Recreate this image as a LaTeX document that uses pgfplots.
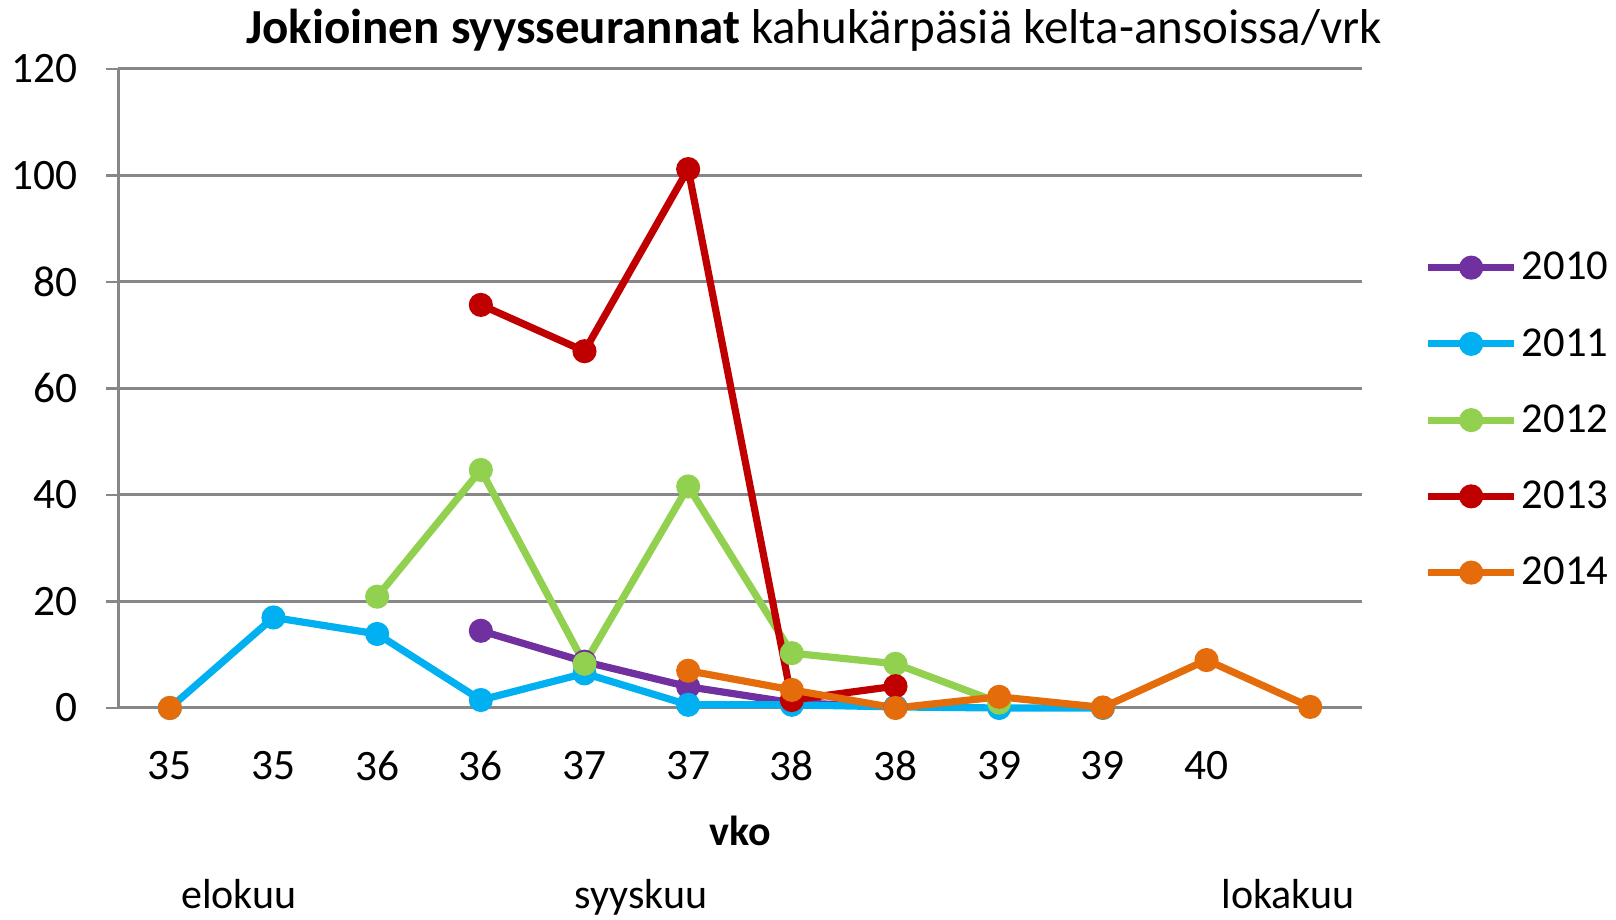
\documentclass[border=0pt]{standalone}
\usepackage{pgfplots}
\pgfplotsset{compat=1.18}
\usepackage{pgfplotstable}
\usepackage{fontspec}
\setmainfont{Carlito}
\definecolor{c2010}{HTML}{7030A0}
\definecolor{c2011}{HTML}{00B0F0}
\definecolor{c2012}{HTML}{92D050}
\definecolor{c2013}{HTML}{C00000}
\definecolor{c2014}{HTML}{E46C0A}
\definecolor{gridc}{HTML}{878787}
\pgfplotstableread{
x  a2010 a2011 a2012 a2013 a2014
0  nan   0     nan   nan   0
1  nan   17.0  nan   nan   nan
2  nan   13.9  20.9  nan   nan
3  14.5  1.5   44.7  75.7  nan
4  8.7   6.5   8.3   67.0  nan
5  4.0   0.6   41.6  101.2 7.0
6  1.0   0.6   10.3  1.5   3.4
7  0.2   0.2   8.3   4.1   0.0
8  nan   0.0   1.0   nan   2.1
9  nan   0.0   nan   nan   0.1
10 nan   nan   nan   nan   9.0
11 nan   nan   nan   nan   0.2
}\datatable
\begin{document}
\begin{tikzpicture}[x=1pt,y=1pt]
\path[use as bounding box] (0,0) rectangle (808,460);
\begin{axis}[
  at={(59pt,106pt)}, anchor=south west,
  scale only axis, width=622pt, height=319.5pt,
  xmin=-0.5, xmax=11.5, ymin=0, ymax=120,
  axis x line=bottom, axis y line=left,
  axis line style={gridc, line width=1.5pt, -},
  xtick={0,...,10},
  xticklabels={35,35,36,36,37,37,38,38,39,39,40},
  xtick style={draw=none},
  minor xtick={-0.5,0.5,...,11.5},
  minor x tick style={gridc, line width=1.2pt},
  minor tick length=8pt,
  ytick={0,20,...,120},
  ytick style={gridc, line width=1.2pt},
  major tick length=6pt,
  tick align=outside,
  ymajorgrids,
  major grid style={gridc, line width=1.5pt},
  /pgf/number format/assume math mode=true,
  tick label style={font=\fontsize{21.7}{26}\selectfont},
  yticklabel style={xshift=-10.5pt},
  xticklabel style={yshift=-12pt},
  unbounded coords=jump,
  clip=false,
  every axis plot/.append style={line width=3.6pt, mark=*, mark size=4.2pt, mark options={solid}},
  legend style={at={(axis description cs:1.05,0.72)}, anchor=north west, draw=none, fill=none,
    font=\fontsize{21.3}{26}\selectfont, row sep=18.8pt, inner sep=0pt},
  legend cell align=left,
  legend image code/.code={\draw[mark repeat=2,mark phase=2,#1] plot coordinates {(0pt,0pt) (21.5pt,0pt) (43pt,0pt)};},
]
\addplot[c2010, mark options={fill=c2010}] table[x=x,y=a2010] {\datatable};
\addlegendentry{2010}
\addplot[c2011, mark options={fill=c2011}] table[x=x,y=a2011] {\datatable};
\addlegendentry{2011}
\addplot[c2012, mark options={fill=c2012}] table[x=x,y=a2012] {\datatable};
\addlegendentry{2012}
\addplot[c2013, mark options={fill=c2013}] table[x=x,y=a2013] {\datatable};
\addlegendentry{2013}
\addplot[c2014, mark options={fill=c2014}] table[x=x,y=a2014] {\datatable};
\addlegendentry{2014}
\end{axis}
\node[font=\fontsize{24.5}{29}\selectfont] at (407,445) {{\bfseries Jokioinen syysseurannat} kahukärpäsiä kelta-ansoissa/vrk};
\node[font=\bfseries\fontsize{21}{25}\selectfont] at (370,44.5) {vko};
\node[font=\fontsize{21}{25}\selectfont, anchor=base, inner sep=0pt] at (119.5,5.5) {elokuu};
\node[font=\fontsize{21}{25}\selectfont, anchor=base, inner sep=0pt] at (320.5,5.5) {syyskuu};
\node[font=\fontsize{21}{25}\selectfont, anchor=base, inner sep=0pt] at (644,5.5) {lokakuu};
\end{tikzpicture}
\end{document}
